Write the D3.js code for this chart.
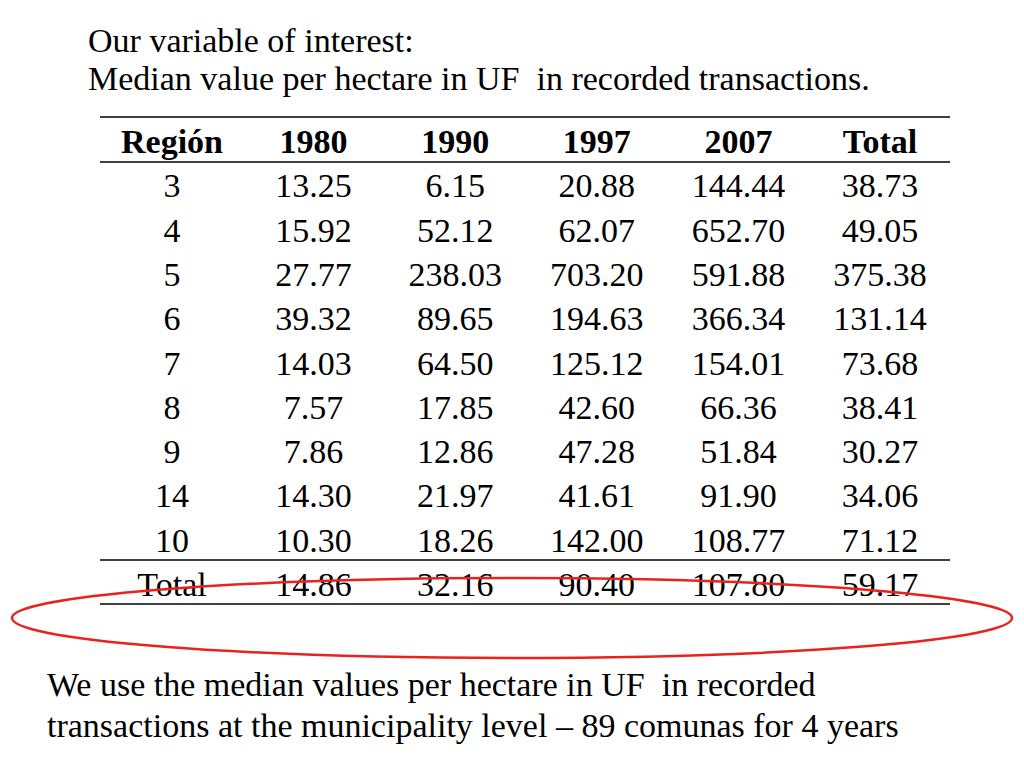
<!DOCTYPE html>
<html><head><meta charset="utf-8">
<script src="https://cdn.jsdelivr.net/npm/d3@7"></script>
<style>body{margin:0;background:#fff} text{white-space:pre}</style></head>
<body><svg id="c" width="1024" height="768"></svg>
<script>
const headers = ["Región","1980","1990","1997","2007","Total"];
const regions = ["3","4","5","6","7","8","9","14","10","Total"];
const v1980 = ["13.25","15.92","27.77","39.32","14.03","7.57","7.86","14.30","10.30","14.86"];
const v1990 = ["6.15","52.12","238.03","89.65","64.50","17.85","12.86","21.97","18.26","32.16"];
const v1997 = ["20.88","62.07","703.20","194.63","125.12","42.60","47.28","41.61","142.00","90.40"];
const v2007 = ["144.44","652.70","591.88","366.34","154.01","66.36","51.84","91.90","108.77","107.80"];
const vTotal = ["38.73","49.05","375.38","131.14","73.68","38.41","30.27","34.06","71.12","59.17"];
const titleLines = ["Our variable of interest:","Median value per hectare in UF  in recorded transactions."];
const footLines = ["We use the median values per hectare in UF  in recorded","transactions at the municipality level – 89 comunas for 4 years"];

const svg = d3.select("#c");
const font = "'Liberation Serif','Times New Roman',serif";
const cols = [regions, v1980, v1990, v1997, v2007, vTotal];
const x = d3.scalePoint().domain(d3.range(6)).range([172, 880]);
const y = d3.scalePoint().domain(d3.range(11)).range([153, 596]);

svg.selectAll(".t").data(titleLines).join("text").attr("x",88).attr("y",(d,i)=>52+i*38)
  .attr("font-family",font).attr("font-size",34).text(d=>d);
svg.selectAll(".f").data(footLines).join("text").attr("x",47).attr("y",(d,i)=>696+i*41)
  .attr("font-family",font).attr("font-size",34).text(d=>d);

[117,162,560,604].forEach(yy=>svg.append("line").attr("x1",100).attr("x2",950).attr("y1",yy).attr("y2",yy).attr("stroke","#000").attr("stroke-width",1.5));

svg.selectAll(".h").data(headers).join("text").attr("x",(d,i)=>x(i)).attr("y",y(0))
  .attr("text-anchor","middle").attr("font-family",font).attr("font-size",34).attr("font-weight","bold").text(d=>d);

cols.forEach((col,ci)=>{
  svg.selectAll(".c"+ci).data(col).join("text").attr("x",x(ci)).attr("y",(d,i)=>y(i+1))
    .attr("text-anchor","middle").attr("font-family",font).attr("font-size",34).text(d=>d);
});

svg.append("ellipse").attr("cx",512).attr("cy",618).attr("rx",500).attr("ry",40)
  .attr("fill","none").attr("stroke","#e8231f").attr("stroke-width",2.5);
</script></body></html>
